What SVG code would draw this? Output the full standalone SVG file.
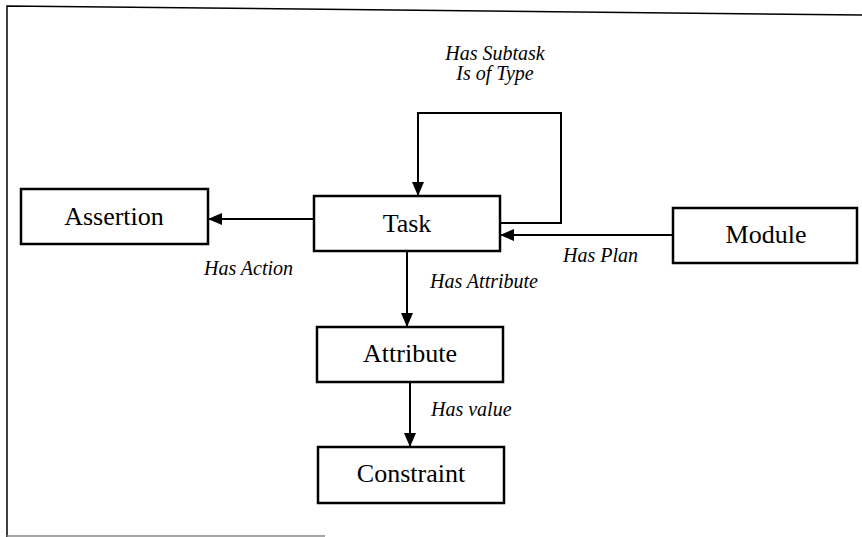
<svg xmlns="http://www.w3.org/2000/svg" width="862" height="537" viewBox="0 0 862 537">
<defs>
<style>
.box{fill:#fff;stroke:#000;stroke-width:2.5}
.lbl{font-family:"Liberation Serif",serif;font-size:26px;fill:#000;text-anchor:middle}
.edge{font-family:"Liberation Serif",serif;font-size:20px;font-style:italic;fill:#000}
.conn{fill:none;stroke:#000;stroke-width:2}
.frame{fill:none;stroke:#000;stroke-width:1.5}
</style>
<marker id="arr" markerWidth="14" markerHeight="12" refX="13" refY="6" orient="auto" markerUnits="userSpaceOnUse">
<path d="M0,0 L14,6 L0,12 Z" fill="#000"/>
</marker>
</defs>
<rect width="862" height="537" fill="#fff"/>
<g id="frame">
<path class="frame" d="M862,15 L7,6 L7,537"/>
<line x1="7" y1="536" x2="325" y2="536" stroke="#888" stroke-width="1.5"/>
</g>
<g id="connectors">
<path class="conn" d="M314,219 L209,219" marker-end="url(#arr)"/>
<path class="conn" d="M500,223 L561,223 L561,113 L418,113 L418,195" marker-end="url(#arr)"/>
<path class="conn" d="M673,235 L501,235" marker-end="url(#arr)"/>
<path class="conn" d="M407,251 L407,326" marker-end="url(#arr)"/>
<path class="conn" d="M410,382 L410,446" marker-end="url(#arr)"/>
<text class="edge" x="495" y="60" text-anchor="middle">Has Subtask</text>
<text class="edge" x="495" y="80" text-anchor="middle">Is of Type</text>
<text class="edge" x="204" y="275">Has Action</text>
<text class="edge" x="430" y="288">Has Attribute</text>
<text class="edge" x="563" y="262">Has Plan</text>
<text class="edge" x="431" y="416">Has value</text>
</g>
<g id="task">
<rect class="box" x="314" y="196" width="186" height="55"/>
<text class="lbl" x="407" y="232">Task</text>
</g>
<g id="assertion">
<rect class="box" x="21" y="189" width="187" height="55"/>
<text class="lbl" x="114" y="225">Assertion</text>
</g>
<g id="module">
<rect class="box" x="673" y="208" width="184" height="55"/>
<text class="lbl" x="766" y="243">Module</text>
</g>
<g id="attribute">
<rect class="box" x="317" y="327" width="186" height="55"/>
<text class="lbl" x="410" y="362">Attribute</text>
</g>
<g id="constraint">
<rect class="box" x="318" y="447" width="186" height="56"/>
<text class="lbl" x="411" y="482">Constraint</text>
</g>
</svg>
